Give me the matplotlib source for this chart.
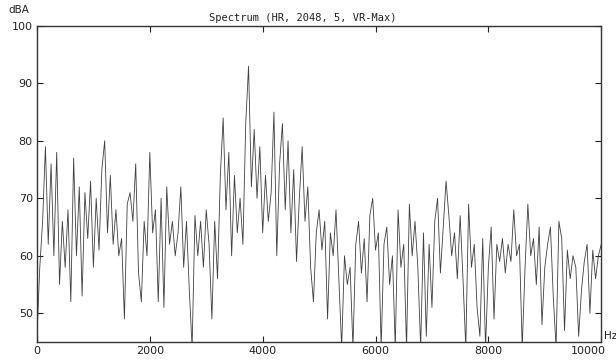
"""
Spectrum plot (HR, 2048, 5, VR-Max) recreated with matplotlib.
"""

import matplotlib
matplotlib.use("Agg")
import matplotlib.pyplot as plt
import matplotlib.transforms as mtransforms
import numpy as np

# Frequency axis: one reading every 50 Hz from 0 to 10000 Hz
freq_hz = np.arange(0, 10001, 50)

# Level in dBA (44 = drops below the bottom of the plot)
level_dba = [
    46, 58, 66, 79, 62, 76, 60, 78, 55, 66,   # 0 - 450
    58, 68, 52, 77, 60, 72, 53, 71, 63, 73,   # 500 - 950
    58, 70, 61, 75, 80, 64, 74, 62, 68, 60,   # 1000 - 1450
    63, 49, 69, 71, 66, 76, 57, 52, 66, 60,   # 1500 - 1950
    78, 64, 68, 52, 70, 51, 72, 62, 66, 60,   # 2000 - 2450
    64, 72, 58, 66, 54, 44, 67, 60, 66, 58,   # 2500 - 2950
    68, 62, 49, 66, 56, 74, 84, 68, 78, 60,   # 3000 - 3450
    74, 64, 70, 62, 83, 93, 72, 82, 70, 79,   # 3500 - 3950
    64, 74, 66, 71, 85, 60, 76, 83, 68, 80,   # 4000 - 4450
    64, 75, 59, 70, 79, 66, 72, 58, 52, 64,   # 4500 - 4950
    68, 61, 66, 49, 64, 60, 68, 56, 44, 60,   # 5000 - 5450
    55, 58, 44, 62, 66, 57, 63, 52, 67, 70,   # 5500 - 5950
    61, 64, 44, 62, 65, 55, 60, 44, 68, 58,   # 6000 - 6450
    62, 44, 69, 60, 66, 58, 44, 64, 46, 62,   # 6500 - 6950
    51, 66, 70, 57, 65, 73, 67, 60, 64, 56,   # 7000 - 7450
    67, 56, 44, 69, 58, 62, 51, 46, 63, 44,   # 7500 - 7950
    58, 65, 49, 62, 59, 63, 57, 62, 59, 68,   # 8000 - 8450
    60, 62, 44, 58, 69, 60, 63, 55, 65, 48,   # 8500 - 8950
    58, 62, 65, 53, 44, 66, 63, 47, 61, 56,   # 9000 - 9450
    60, 58, 46, 54, 59, 62, 50, 61, 56, 60,   # 9500 - 9950
    62,                                       # 10000
]

x_ticks = [0, 2000, 4000, 6000, 8000, 10000]
y_ticks = [50, 60, 70, 80, 90, 100]

fig = plt.figure(figsize=(6.16, 3.6), dpi=100)
ax = fig.add_axes([0.060, 0.05, 0.916, 0.878])

ax.plot(freq_hz, level_dba, color='#404040', linewidth=0.6)

ax.set_xlim(0, 10000)
ax.set_ylim(45, 100)
ax.set_xticks(x_ticks)
ax.set_yticks(y_ticks)
ax.tick_params(direction='in', top=True, right=True, length=4,
               labelsize=8, colors='#222222', pad=3)

# the last x label sits a bit left so it stays inside the figure
last = ax.get_xticklabels()[-1]
last.set_transform(last.get_transform() +
                   mtransforms.ScaledTranslation(-13 / 100, 0, fig.dpi_scale_trans))

for spine in ax.spines.values():
    spine.set_linewidth(1.0)
    spine.set_color('#333333')

# Axis unit labels and title
fig.text(8 / 616, 1 - 10 / 360, 'dBA', fontsize=7.5, color='#222222',
         ha='left', va='center')
fig.text(604 / 616, 1 - 336 / 360, 'Hz', fontsize=7.5, color='#222222',
         ha='left', va='center')
fig.text(303 / 616, 1 - 18 / 360, 'Spectrum (HR, 2048, 5, VR-Max)',
         fontsize=7.5, family='DejaVu Sans Mono', color='#222222',
         ha='center', va='center')

fig.savefig('out.png', dpi=100)
